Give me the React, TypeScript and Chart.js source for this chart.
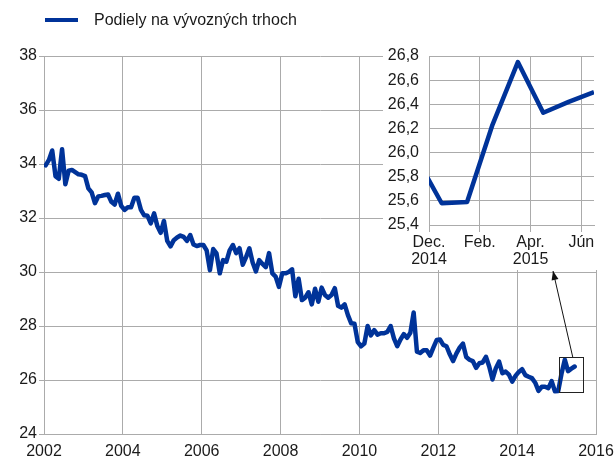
import React, { useEffect, useRef } from 'react';
import { Chart, registerables } from 'chart.js';
Chart.register(...registerables);

const seriesLabel = 'Podiely na vývozných trhoch';
const startYear = 2002;

const v2002 = [33.95, 34.15, 34.5, 33.55, 33.45, 34.55, 33.25, 33.75, 33.78, 33.7, 33.62, 33.6];
const v2003 = [33.55, 33.1, 32.95, 32.55, 32.8, 32.82, 32.85, 32.87, 32.6, 32.5, 32.9, 32.45];
const v2004 = [32.3, 32.4, 32.4, 32.75, 32.75, 32.3, 32.1, 32.08, 31.8, 32.17, 31.7, 31.45];
const v2005 = [31.89, 31.15, 30.95, 31.18, 31.28, 31.35, 31.3, 31.15, 31.37, 31.02, 30.96, 31.0];
const v2006 = [31.0, 30.8, 30.07, 30.85, 30.69, 29.95, 30.44, 30.38, 30.8, 31.0, 30.7, 30.88];
const v2007 = [30.27, 30.55, 30.88, 30.35, 30.02, 30.44, 30.3, 30.18, 30.7, 29.95, 29.83, 29.45];
const v2008 = [29.95, 29.95, 30.0, 30.1, 29.1, 29.75, 28.96, 29.05, 29.25, 28.8, 29.38, 28.9];
const v2009 = [29.42, 29.15, 29.05, 29.15, 29.4, 28.75, 28.68, 28.8, 28.4, 28.1, 28.08, 27.4];
const v2010 = [27.25, 27.35, 28.0, 27.65, 27.85, 27.68, 27.73, 27.73, 27.78, 28.0, 27.54, 27.25];
const v2011 = [27.5, 27.7, 27.56, 27.75, 28.5, 27.05, 27.0, 27.1, 27.1, 26.9, 27.2, 27.48];
const v2012 = [27.5, 27.3, 27.25, 26.95, 26.7, 26.98, 27.2, 27.35, 26.85, 26.75, 26.7, 26.45];
const v2013 = [26.62, 26.65, 26.86, 26.5, 26.02, 26.43, 26.68, 26.25, 26.31, 26.2, 25.94, 26.15];
const v2014 = [26.3, 26.4, 26.18, 26.12, 26.07, 25.9, 25.6, 25.75, 25.75, 25.7, 25.96, 25.58];
const v2015 = [25.59, 26.23, 26.75, 26.33, 26.42, 26.5];

const monthlyValues = [
  ...v2002, ...v2003, ...v2004, ...v2005, ...v2006, ...v2007, ...v2008,
  ...v2009, ...v2010, ...v2011, ...v2012, ...v2013, ...v2014, ...v2015,
];

const mainXTicks = [2002, 2004, 2006, 2008, 2010, 2012, 2014, 2016];
const mainYTicks = [24, 26, 28, 30, 32, 34, 36, 38];

// inset: Nov 2014 .. Jun 2015 (month index relative to 1 Dec 2014)
const insetMonthIdx = [-1, 0, 1, 2, 3, 4, 5, 6];
const insetValues = monthlyValues.slice(-8);
const insetXTicks = [0, 2, 4, 6];
const insetXLabels: (string | string[])[] = [['Dec.', '2014'], 'Feb.', ['Apr.', '2015'], 'Jún'];
const insetYTicks = [25.4, 25.6, 25.8, 26.0, 26.2, 26.4, 26.6, 26.8];

const zoomBox = { x0: 2015.06, x1: 2015.67, y0: 25.56, y1: 26.85, arrowX: 2015.41 };

const LINE = '#003399';
const GRID = '#ababab';
const TEXT = '#1a1a1a';
const FONT = "'Liberation Sans', Arial, sans-serif";

export default function App() {
  const mainRef = useRef<HTMLCanvasElement>(null);
  const insetRef = useRef<HTMLCanvasElement>(null);

  useEffect(() => {
    const mainPts = monthlyValues.map((v, k) => ({ x: startYear + (k + 0.5) / 12, y: v }));

    const overlay = {
      id: 'overlay',
      afterDraw(chart: any) {
        const ctx = chart.ctx;
        const xs = chart.scales.x;
        const ys = chart.scales.y;
        ctx.save();
        // legend
        ctx.strokeStyle = LINE;
        ctx.lineWidth = 4;
        ctx.beginPath();
        ctx.moveTo(45, 20);
        ctx.lineTo(78, 20);
        ctx.stroke();
        ctx.fillStyle = TEXT;
        ctx.font = `16px ${FONT}`;
        ctx.textBaseline = 'middle';
        ctx.textAlign = 'left';
        ctx.fillText(seriesLabel, 94, 21);
        // box
        const bx0 = xs.getPixelForValue(zoomBox.x0);
        const bx1 = xs.getPixelForValue(zoomBox.x1);
        const by0 = ys.getPixelForValue(zoomBox.y1);
        const by1 = ys.getPixelForValue(zoomBox.y0);
        ctx.strokeStyle = '#222';
        ctx.lineWidth = 1;
        ctx.strokeRect(Math.round(bx0) + 0.5, Math.round(by0) + 0.5, Math.round(bx1 - bx0), Math.round(by1 - by0));
        // arrow
        const ax0 = xs.getPixelForValue(zoomBox.arrowX);
        const ay0 = by0;
        const tx = 553, ty = 271;
        ctx.strokeStyle = '#111';
        ctx.beginPath();
        ctx.moveTo(ax0, ay0);
        ctx.lineTo(tx, ty);
        ctx.stroke();
        const ang = Math.atan2(ty - ay0, tx - ax0);
        const L = 9, W = 3.5;
        ctx.fillStyle = '#111';
        ctx.beginPath();
        ctx.moveTo(tx, ty);
        ctx.lineTo(tx - L * Math.cos(ang) + W * Math.sin(ang), ty - L * Math.sin(ang) - W * Math.cos(ang));
        ctx.lineTo(tx - L * Math.cos(ang) - W * Math.sin(ang), ty - L * Math.sin(ang) + W * Math.cos(ang));
        ctx.closePath();
        ctx.fill();
        ctx.restore();
      },
    };

    const main = new Chart(mainRef.current!, {
      type: 'line',
      data: {
        datasets: [{
          label: seriesLabel,
          data: mainPts,
          borderColor: LINE,
          borderWidth: 4.5,
          borderJoinStyle: 'round',
          borderCapStyle: 'round',
          pointRadius: 0,
          tension: 0,
          fill: false,
        }],
      },
      options: {
        animation: false,
        responsive: false,
        devicePixelRatio: 1,
        layout: { padding: { top: 56, right: 20, left: 0, bottom: 0 } },
        plugins: { legend: { display: false }, tooltip: { enabled: false } },
        scales: {
          x: {
            type: 'linear',
            min: 2002,
            max: 2016,
            afterBuildTicks: (s: any) => { s.ticks = mainXTicks.map((v) => ({ value: v })); },
            afterFit: (s: any) => { s.height = 28; s.paddingLeft = 0; s.paddingRight = 0; },
            ticks: { callback: (v: any) => String(v), color: TEXT, font: { family: FONT, size: 16 }, padding: 8, maxRotation: 0 },
            grid: { color: GRID, drawTicks: false },
            border: { color: GRID },
          },
          y: {
            min: 24,
            max: 38,
            afterBuildTicks: (s: any) => { s.ticks = mainYTicks.map((v) => ({ value: v })); },
            afterFit: (s: any) => { s.width = 44; s.paddingTop = 0; s.paddingBottom = 0; },
            ticks: { callback: (v: any) => String(v), color: TEXT, font: { family: FONT, size: 16 }, padding: 2 },
            grid: { color: GRID, tickLength: 5 },
            border: { color: GRID },
          },
        },
      },
      plugins: [overlay],
    } as any);

    const inset = new Chart(insetRef.current!, {
      type: 'line',
      data: {
        datasets: [{
          label: seriesLabel,
          data: insetMonthIdx.map((m, i) => ({ x: m + 0.5, y: insetValues[i] })),
          borderColor: LINE,
          borderWidth: 4.5,
          borderJoinStyle: 'round',
          pointRadius: 0,
          tension: 0,
          fill: false,
        }],
      },
      options: {
        animation: false,
        responsive: false,
        devicePixelRatio: 1,
        layout: { padding: { top: 14, right: 16, left: 0, bottom: 0 } },
        plugins: { legend: { display: false }, tooltip: { enabled: false } },
        scales: {
          x: {
            type: 'linear',
            min: 0,
            max: 6.5,
            afterBuildTicks: (s: any) => { s.ticks = insetXTicks.map((v) => ({ value: v })); },
            afterFit: (s: any) => { s.height = 45; s.paddingLeft = 0; s.paddingRight = 0; },
            ticks: {
              callback: (v: any) => insetXLabels[insetXTicks.indexOf(v)] ?? '',
              color: TEXT, font: { family: FONT, size: 16, lineHeight: 1.05 }, padding: 2, maxRotation: 0,
            },
            grid: { color: GRID, tickLength: 7 },
            border: { color: GRID },
          },
          y: {
            min: 25.4,
            max: 26.8,
            afterBuildTicks: (s: any) => { s.ticks = insetYTicks.map((v) => ({ value: v })); },
            afterFit: (s: any) => { s.width = 46; s.paddingTop = 0; s.paddingBottom = 0; },
            ticks: {
              callback: (v: any) => Number(v).toFixed(1).replace('.', ','),
              color: TEXT, font: { family: FONT, size: 16 }, padding: 10,
            },
            grid: { color: GRID, drawTicks: false },
            border: { color: GRID },
          },
        },
      },
    } as any);

    return () => { main.destroy(); inset.destroy(); };
  }, []);

  return (
    <div style={{ position: 'fixed', left: 0, top: 0, width: 616, height: 462, background: '#fff' }}>
      <canvas ref={mainRef} width={616} height={462} style={{ position: 'absolute', left: 0, top: 0, width: 616, height: 462 }} />
      <canvas ref={insetRef} width={227} height={228} style={{ position: 'absolute', left: 383, top: 42, width: 227, height: 228, background: '#fff' }} />
    </div>
  );
}
